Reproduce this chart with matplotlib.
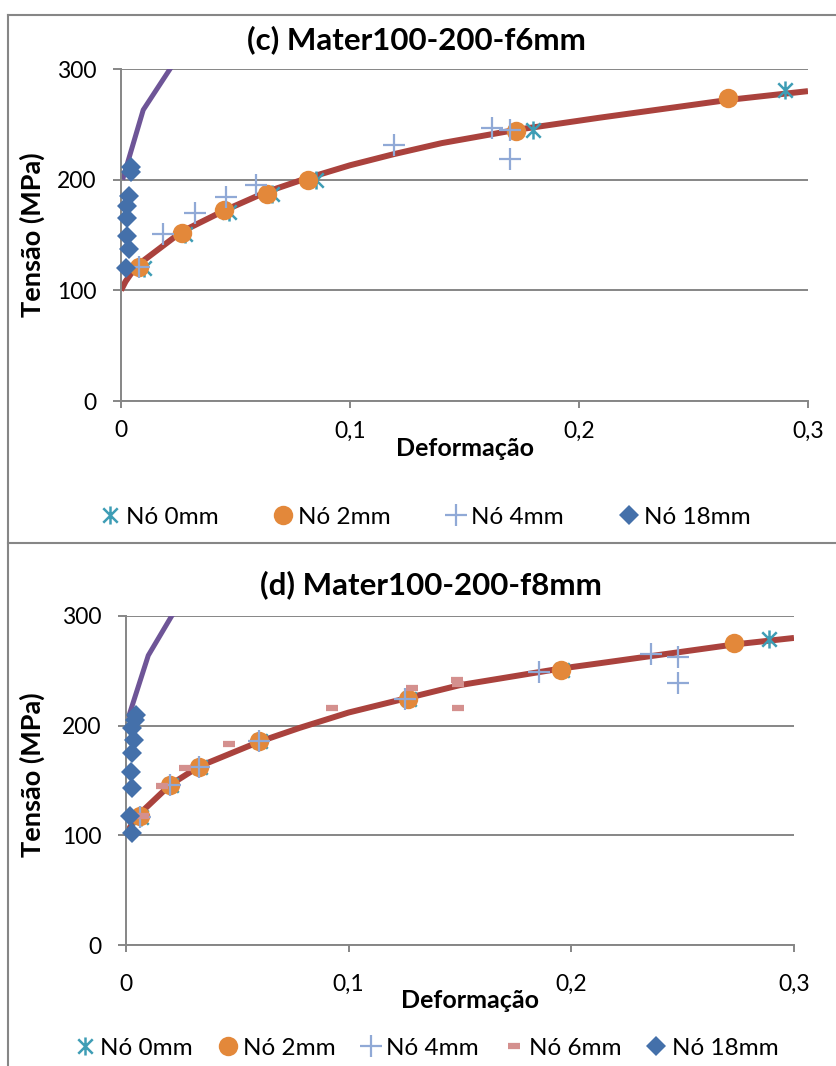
import matplotlib
matplotlib.use('Agg')
import matplotlib.pyplot as plt
from matplotlib.lines import Line2D
from matplotlib.path import Path

plt.rcParams['font.family'] = ['Lato', 'DejaVu Sans']

W, H = 837, 1066

# ---- (c) Mater100-200-f6mm ----
c_curve_x = [0, 0.002, 0.004, 0.008, 0.0265, 0.045, 0.0636, 0.08, 0.1, 0.119, 0.14, 0.1725, 0.209, 0.265, 0.3]
c_curve_y = [100, 108, 114, 124, 153, 172, 189, 200.5, 213, 223, 233, 245, 256, 272, 280]
c_elastic_x = [0.0007, 0.0097, 0.0214, 0.03]
c_elastic_y = [200, 263, 300, 327]
c_n0_x = [0.010, 0.028, 0.047, 0.066, 0.085, 0.180, 0.290]
c_n0_y = [120, 151, 171, 187, 200, 245, 281]
c_n2_x = [0.008, 0.0265, 0.045, 0.0636, 0.0818, 0.1725, 0.265]
c_n2_y = [121, 152, 172.5, 187.5, 200, 244, 274]
c_n4_x = [0.008, 0.0185, 0.0323, 0.0459, 0.059, 0.119, 0.162, 0.170, 0.170]
c_n4_y = [121, 151, 169.5, 184.6, 195, 231, 247, 245, 219]
c_n18_x = [0.0042, 0.0043, 0.0036, 0.0028, 0.0028, 0.0025, 0.0036, 0.0022]
c_n18_y = [207, 211, 185, 176, 165, 149, 137, 120]

# ---- (d) Mater100-200-f8mm ----
d_curve_x = [0, 0.002, 0.0063, 0.0198, 0.033, 0.0599, 0.078, 0.1, 0.126, 0.15, 0.195, 0.213, 0.273, 0.3]
d_curve_y = [100, 108, 120, 146, 163, 185.4, 198, 212, 225, 237, 252, 257, 274, 280]
d_elastic_x = [0.001, 0.01, 0.0205, 0.03]
d_elastic_y = [207, 264, 300, 327]
d_n0_x = [0.0068, 0.0203, 0.0334, 0.0604, 0.1273, 0.1957, 0.2889]
d_n0_y = [117, 145.5, 162, 186, 224, 250.5, 279]
d_n2_x = [0.0063, 0.0198, 0.0329, 0.0599, 0.1268, 0.1952, 0.273]
d_n2_y = [117.6, 146, 162.5, 186.3, 224, 250.7, 275]
d_n4_x = [0.0063, 0.0198, 0.0329, 0.0599, 0.1253, 0.1856, 0.236, 0.2477, 0.2477]
d_n4_y = [117, 146, 162.5, 186, 224, 248.6, 265, 263, 239]
d_n6_x = [0.0078, 0.016, 0.0265, 0.0464, 0.0924, 0.1286, 0.1488, 0.149, 0.149]
d_n6_y = [117.6, 145, 161, 183, 216, 234, 241.6, 238, 216]
d_n18_x = [0.004, 0.0045, 0.0026, 0.0037, 0.0026, 0.0021, 0.0026, 0.0018, 0.0026]
d_n18_y = [205, 210, 197.6, 187, 175, 158, 143, 117.6, 101.8]

x_ticks = [0, 0.1, 0.2, 0.3]
x_labels = ['0', '0,1', '0,2', '0,3']
y_ticks = [0, 100, 200, 300]

GRID = '#868686'
C_CURVE = '#AA423D'
C_ELASTIC = '#6E5597'
C_N0 = '#3E9DB5'
C_N2 = '#E3883A'
C_N4 = '#90A9D6'
C_N6 = '#D4908E'
C_N18 = '#4470AA'

# asterisk: an x with a vertical bar through it
ASTER = Path([(-1, -1), (1, 1), (-1, 1), (1, -1), (0, -1.25), (0, 1.25)],
             [Path.MOVETO, Path.LINETO, Path.MOVETO, Path.LINETO, Path.MOVETO, Path.LINETO])

styles = {
    'n0': dict(marker=ASTER, ms=13, mew=1.8, mec=C_N0, mfc='none', ls='none'),
    'n2': dict(marker='o', ms=14, mew=0, mfc=C_N2, ls='none'),
    'n4': dict(marker='+', ms=16, mew=1.6, mec=C_N4, ls='none'),
    'n6': dict(marker='_', ms=8, mew=4.5, mec=C_N6, ls='none'),
    'n18': dict(marker='D', ms=10.5, mew=0, mfc=C_N18, ls='none'),
}
names = {'n0': 'Nó 0mm', 'n2': 'Nó 2mm', 'n4': 'Nó 4mm', 'n6': 'Nó 6mm', 'n18': 'Nó 18mm'}


def px_box(left, top, right, bottom):
    return [left / W, 1 - bottom / H, (right - left) / W, (bottom - top) / H]


def fline(fig, xs, ys):
    fig.add_artist(Line2D([x / W for x in xs], [1 - y / H for y in ys],
                          color=GRID, lw=1.5, transform=fig.transFigure))


def panel(fig, box, curve, elastic, series, xpad):
    ax = fig.add_axes(px_box(*box))
    ax.set_xlim(0, 0.3)
    ax.set_ylim(0, 300)
    ax.plot(*curve, color=C_CURVE, lw=4.3, solid_capstyle='butt', zorder=2)
    ax.plot(*elastic, color=C_ELASTIC, lw=3.6, solid_capstyle='butt', zorder=2)
    for i, (key, xs, ys) in enumerate(series):
        ax.plot(xs, ys, clip_on=False, zorder=3 + i, **styles[key])
    ax.set_xticks(x_ticks)
    ax.set_xticklabels(x_labels)
    ax.set_yticks(y_ticks)
    ax.yaxis.grid(True, color=GRID, lw=1.4)
    ax.set_axisbelow(True)
    for s in ('top', 'right'):
        ax.spines[s].set_visible(False)
    for s in ('left', 'bottom'):
        ax.spines[s].set_color(GRID)
        ax.spines[s].set_linewidth(1.4)
    ax.tick_params(axis='y', direction='out', length=5.8, width=1.4, color=GRID,
                   pad=12, labelsize=16.5)
    ax.tick_params(axis='x', direction='out', length=5, width=1.4, color=GRID,
                   pad=xpad, labelsize=16.5)
    return ax


def legend(fig, keys, y, cx, spacing):
    handles = [Line2D([], [], **styles[k]) for k in keys]
    fig.legend(handles, [names[k] for k in keys], loc='center',
               bbox_to_anchor=(cx / W, 1 - y / H), ncol=len(keys), frameon=False,
               fontsize=17.5, handlelength=0.75, handletextpad=0.25,
               columnspacing=spacing, borderpad=0)


fig = plt.figure(figsize=(W / 100, H / 100), dpi=100)

# chart frames
fline(fig, [8, W], [15, 15])
fline(fig, [8, 8], [15, H])
fline(fig, [8, W], [543, 543])

# (c)
panel(fig, (121, 69, 808, 401), (c_curve_x, c_curve_y), (c_elastic_x, c_elastic_y),
      [('n0', c_n0_x, c_n0_y), ('n2', c_n2_x, c_n2_y), ('n4', c_n4_x, c_n4_y),
       ('n18', c_n18_x, c_n18_y)], xpad=9)
fig.text(416 / W, 1 - 40 / H, '(c) Mater100-200-f6mm', ha='center', va='center',
         fontsize=22.5, fontweight='bold')
fig.text(32 / W, 1 - 235 / H, 'Tensão (MPa)', ha='center', va='center', rotation=90,
         fontsize=19.5, fontweight='bold')
fig.text(465 / W, 1 - 448 / H, 'Deformação', ha='center', va='center',
         fontsize=18, fontweight='bold')
legend(fig, ['n0', 'n2', 'n4', 'n18'], 517, 426, 2.3)

# (d)
panel(fig, (126, 616, 794, 945), (d_curve_x, d_curve_y), (d_elastic_x, d_elastic_y),
      [('n0', d_n0_x, d_n0_y), ('n2', d_n2_x, d_n2_y), ('n4', d_n4_x, d_n4_y),
       ('n6', d_n6_x, d_n6_y), ('n18', d_n18_x, d_n18_y)], xpad=16)
fig.text(431 / W, 1 - 585 / H, '(d) Mater100-200-f8mm', ha='center', va='center',
         fontsize=22.5, fontweight='bold')
fig.text(32 / W, 1 - 775 / H, 'Tensão (MPa)', ha='center', va='center', rotation=90,
         fontsize=19.5, fontweight='bold')
fig.text(470 / W, 1 - 1000 / H, 'Deformação', ha='center', va='center',
         fontsize=18, fontweight='bold')
legend(fig, ['n0', 'n2', 'n4', 'n6', 'n18'], 1048, 427, 1.07)

fig.savefig('out.png', dpi=100)
